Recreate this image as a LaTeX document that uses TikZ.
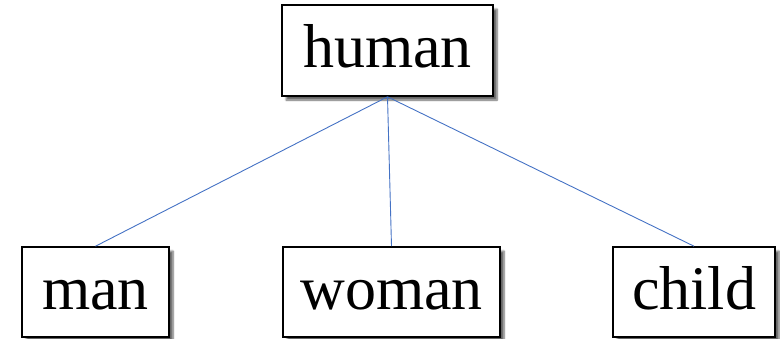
\documentclass[tikz,border=0pt]{standalone}
\usepackage{fontspec}
\setmainfont{Liberation Serif}
\usetikzlibrary{shadows.blur}
\definecolor{linkblue}{RGB}{68,114,196}
\begin{document}
\begin{tikzpicture}[x=1pt,y=-1pt,
  wordbox/.style={draw=black, line width=1.6pt, fill=white, inner sep=0pt,
    text height=45pt, text depth=11pt,
    font=\fontsize{62}{62}\selectfont,
    blur shadow={shadow xshift=4pt, shadow yshift=-4pt, shadow blur steps=6, shadow opacity=60}},
  link/.style={draw=linkblue, line width=0.9pt}]
\useasboundingbox (0,0) rectangle (780,338);
\node[wordbox, minimum width=211pt, minimum height=91pt] (human) at (387.5,50.5) {human};
\node[wordbox, minimum width=147pt, minimum height=90pt] (man) at (95.5,292) {man};
\node[wordbox, minimum width=217pt, minimum height=90pt] (woman) at (391.5,292) {woman};
\node[wordbox, minimum width=162pt, minimum height=90pt] (child) at (694,292) {child};
\draw[link] (human.south) -- (man.north);
\draw[link] (human.south) -- (woman.north);
\draw[link] (human.south) -- (child.north);
\end{tikzpicture}
\end{document}
